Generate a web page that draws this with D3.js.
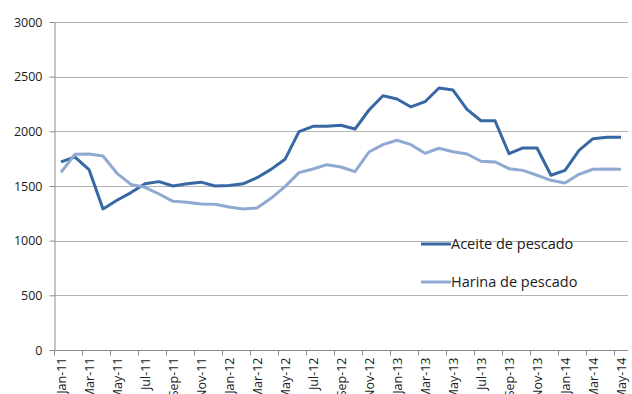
<!DOCTYPE html>
<html>
<head>
<meta charset="utf-8">
<script src="https://cdn.jsdelivr.net/npm/d3@7"></script>
<style>
  html, body { margin: 0; padding: 0; background: #fff; overflow: hidden; }
  svg { display: block; font-family: "Open Sans", "DejaVu Sans", sans-serif; }
</style>
</head>
<body>
<svg id="chart" width="632" height="394"></svg>
<script>
// Monthly prices, Jan-2011 .. May-2014
const months = [
  "Jan-11","Feb-11","Mar-11","Apr-11","May-11","Jun-11","Jul-11","Aug-11","Sep-11","Oct-11","Nov-11","Dec-11",
  "Jan-12","Feb-12","Mar-12","Apr-12","May-12","Jun-12","Jul-12","Aug-12","Sep-12","Oct-12","Nov-12","Dec-12",
  "Jan-13","Feb-13","Mar-13","Apr-13","May-13","Jun-13","Jul-13","Aug-13","Sep-13","Oct-13","Nov-13","Dec-13",
  "Jan-14","Feb-14","Mar-14","Apr-14","May-14"
];

const aceite = [
  1720, 1765, 1650, 1290, 1370, 1440, 1520, 1540, 1500, 1520, 1535, 1500,
  1505, 1520, 1576, 1652, 1744, 1997, 2046, 2046, 2055, 2021, 2195, 2326,
  2296, 2223, 2271, 2396, 2378, 2201, 2097, 2097, 1796, 1848, 1848, 1598,
  1643, 1826, 1933, 1945, 1945
];

const harina = [
  1625, 1790, 1793, 1774, 1616, 1515, 1488, 1427, 1360, 1351, 1335, 1333,
  1308, 1290, 1299, 1387, 1494, 1622, 1655, 1695, 1674, 1631, 1811, 1878,
  1918, 1878, 1799, 1845, 1814, 1793, 1726, 1720, 1658, 1643, 1598, 1552,
  1527, 1607, 1653, 1655, 1653
];

const yTicks = [0, 500, 1000, 1500, 2000, 2500, 3000];
const seriesNames = ["Aceite de pescado", "Harina de pescado"];

const colors = ["#3768a3", "#8fa9d2"];
const margin = { left: 54, right: 4, top: 22, bottom: 44 };
const W = 632, H = 394;

const svg = d3.select("#chart");

const x = d3.scaleBand()
  .domain(months)
  .range([margin.left, W - margin.right])
  .paddingInner(0).paddingOuter(0);

const y = d3.scaleLinear()
  .domain([0, 3000])
  .range([H - margin.bottom, margin.top]);

// horizontal gridlines
svg.append("g")
  .selectAll("line")
  .data(yTicks.filter(d => d > 0))
  .join("line")
  .attr("x1", margin.left)
  .attr("x2", W - margin.right)
  .attr("y1", d => Math.round(y(d)) + 0.5)
  .attr("y2", d => Math.round(y(d)) + 0.5)
  .attr("stroke", "#b4b4b4")
  .attr("stroke-width", 1);

// y axis
const yAxis = svg.append("g")
  .attr("transform", `translate(${margin.left + 0.5},0)`)
  .call(d3.axisLeft(y).tickValues(yTicks).tickFormat(d3.format("d"))
    .tickSize(5).tickPadding(7).tickSizeOuter(0));
yAxis.select(".domain").attr("stroke", "#8c8c8c");
yAxis.selectAll(".tick line").attr("stroke", "#8c8c8c");
yAxis.selectAll(".tick text")
  .attr("font-size", 12.5)
  .attr("fill", "#1a1a1a")
  .attr("font-family", "'Open Sans', sans-serif");

// x axis: ticks at every other category boundary
const xAxisG = svg.append("g")
  .attr("transform", `translate(0,${Math.round(y(0)) + 0.5})`);

xAxisG.append("line")
  .attr("x1", margin.left)
  .attr("x2", W - margin.right)
  .attr("stroke", "#8c8c8c");

const labelled = months.filter((d, i) => i % 2 === 0);

xAxisG.selectAll("line.tk")
  .data(labelled)
  .join("line")
  .attr("class", "tk")
  .attr("x1", d => Math.round(x(d)) + 0.5)
  .attr("x2", d => Math.round(x(d)) + 0.5)
  .attr("y1", 0)
  .attr("y2", 5)
  .attr("stroke", "#8c8c8c");

xAxisG.selectAll("text")
  .data(labelled)
  .join("text")
  .attr("transform", d => `translate(${x(d) + x.bandwidth() / 2 + 4.5},7) rotate(-90)`)
  .attr("text-anchor", "end")
  .attr("font-size", 12.5)
  .attr("fill", "#1a1a1a")
  .text(d => d);

// lines
const line = d3.line()
  .x((d, i) => x(months[i]) + x.bandwidth() / 2)
  .y(d => y(d));

[aceite, harina].forEach((vals, k) => {
  svg.append("path")
    .datum(vals)
    .attr("fill", "none")
    .attr("stroke", colors[k])
    .attr("stroke-width", 3)
    .attr("stroke-linejoin", "round")
    .attr("d", line);
});

// legend
const legend = svg.append("g").attr("transform", "translate(421,244)");
seriesNames.forEach((name, k) => {
  const g = legend.append("g").attr("transform", `translate(0,${k * 38})`);
  g.append("line")
    .attr("x1", 0).attr("x2", 30)
    .attr("stroke", colors[k]).attr("stroke-width", 3);
  g.append("text")
    .attr("x", 30)
    .attr("y", 5)
    .attr("font-size", 14.5)
    .attr("fill", "#1a1a1a")
    .text(name);
});
</script>
</body>
</html>
